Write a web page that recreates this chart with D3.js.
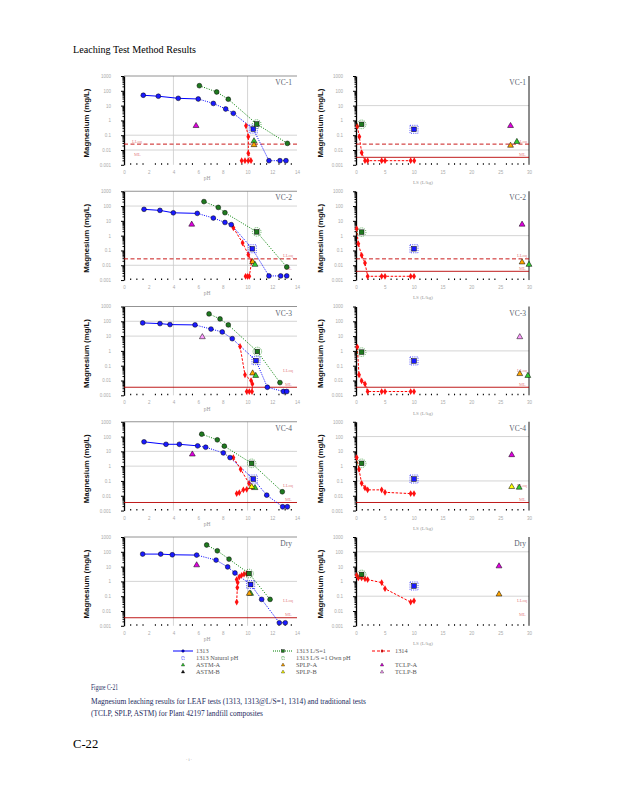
<!DOCTYPE html>
<html>
<head>
<meta charset="utf-8">
<script src="https://cdn.jsdelivr.net/npm/d3@7"></script>
<style>
    body { margin: 0; background: #fff; }
    svg { display: block; }
</style>
</head>
<body>
<script>
// ---- data ----
const panelNames = ["VC-1", "VC-2", "VC-3", "VC-4", "Dry"];
const decades = [0.001, 0.01, 0.1, 1, 10, 100, 1000];
const phTicks = [0, 2, 4, 6, 8, 10, 12, 14];
const lsTicks = [0, 5, 10, 15, 20, 25, 30];

// 1313 (pH, mg/L), one list per panel; index natIdx is the natural pH point
const m1313 = [
    [[1.56, 50], [2.78, 43], [4.39, 31], [6.01, 28], [7.23, 14], [8.23, 5.9], [8.85, 3.0], [10.46, 0.26], [11.73, 0.0019], [12.62, 0.0019], [13.11, 0.0019]],
    [[1.62, 60], [2.91, 51], [3.99, 35], [5.93, 32], [7.23, 15.5], [8.17, 7.8], [8.68, 5.5], [10.38, 0.13], [11.73, 0.0019], [12.68, 0.0019], [13.17, 0.0019]],
    [[1.51, 78], [2.91, 70], [3.72, 60], [5.75, 57], [7.04, 30], [7.95, 19], [8.76, 6.7], [10.68, 0.22], [11.6, 0.0035], [12.9, 0.0018], [13.17, 0.0018]],
    [[1.62, 44], [3.40, 30], [4.48, 30], [5.96, 23.5], [6.61, 19], [8.04, 7.8], [8.58, 3.8], [10.46, 0.135], [11.55, 0.011], [12.84, 0.0018], [13.22, 0.0018]],
    [[1.51, 70], [2.97, 70], [3.91, 63], [5.88, 60], [7.45, 27.5], [8.39, 9.5], [8.98, 3.7], [10.25, 0.61], [11.14, 0.061], [12.57, 0.0016], [13.05, 0.0016]],
];
const natIdx1313 = [7, 7, 7, 7, 7];

// 1313 L/S=1 (pH, mg/L)
const m1313LS1 = [
    [[6.10, 221], [7.50, 83], [8.44, 27], [10.74, 0.57], [13.22, 0.028]],
    [[6.47, 200], [7.63, 81], [8.17, 35.5], [10.74, 1.8], [13.17, 0.0076]],
    [[6.88, 316], [7.77, 145], [8.44, 57], [10.79, 0.91], [12.62, 0.0072]],
    [[6.29, 145], [7.55, 60], [8.12, 22.4], [10.33, 1.55], [12.81, 0.0186]],
    [[6.69, 288], [7.55, 117], [8.5, 32], [10.12, 3.4], [11.82, 0.061]],
];
const natIdxLS1 = [3, 3, 3, 3, 3];

// 1314 eluates against pH
const m1314pH = [
    [[9.87, 0.43], [10.06, 0.079], [10.06, 0.006], [10.28, 0.0019], [10.06, 0.0019], [9.79, 0.0019], [9.52, 0.0019]],
    [[8.85, 3.4], [9.6, 0.32], [10.06, 0.052], [10.33, 0.018], [10.14, 0.0018], [10.0, 0.0018], [9.84, 0.0018]],
    [[9.39, 2.0], [9.79, 0.024], [10.28, 0.01], [10.39, 0.0059], [10.36, 0.0018], [10.14, 0.0018], [9.93, 0.0018]],
    [[8.85, 3.8], [9.44, 0.61], [10.12, 0.069], [10.33, 0.04], [9.93, 0.027], [9.66, 0.025], [9.33, 0.016], [9.12, 0.014]],
    [[9.93, 3.4], [9.71, 3.1], [9.52, 2.6], [9.33, 2.0], [9.12, 1.32], [9.2, 0.83], [9.17, 0.38], [9.12, 0.04]],
];

// 1314 eluates against cumulative L/S (L/kg)
const m1314LS = [
    [[0.23, 0.39], [0.58, 0.079], [0.98, 0.0066], [1.56, 0.0019], [2.02, 0.0019], [4.45, 0.0019], [5.03, 0.0019], [9.48, 0.0019], [10.1, 0.0019]],
    [[0.12, 2.9], [0.4, 0.28], [0.98, 0.047], [1.56, 0.014], [2.02, 0.0018], [4.45, 0.0018], [5.03, 0.0018], [9.48, 0.0018], [10.06, 0.0018]],
    [[0.23, 1.8], [0.52, 0.024], [0.98, 0.0094], [1.56, 0.0059], [2.02, 0.0018], [4.45, 0.0018], [5.03, 0.0018], [9.48, 0.0018], [10.06, 0.0018]],
    [[0.12, 3.8], [0.52, 0.61], [0.98, 0.069], [1.56, 0.034], [2.02, 0.025], [4.45, 0.025], [5.03, 0.017], [9.48, 0.014], [10.06, 0.014]],
    [[0.12, 2.6], [0.4, 1.73], [0.98, 1.73], [1.56, 1.5], [2.02, 1.32], [4.45, 0.83], [5.03, 0.32], [9.48, 0.04], [10.06, 0.049]],
];

// natural pH points on the L/S plots
const m1313NatLS = [[10.06, 0.25], [10.06, 0.13], [10.06, 0.21], [10.06, 0.135], [10.06, 0.49]];
const m1313LS1NatLS = [[0.98, 0.54], [0.98, 1.73], [0.98, 0.83], [0.98, 1.55], [0.98, 2.95]];

// single-point tests [test, pH or L/S, mg/L]
const singlePH = [
    [["TCLP-A", 5.83, 0.43], ["ASTM-A", 10.52, 0.04], ["SPLP-A", 10.52, 0.022]],
    [["TCLP-A", 5.48, 5.7], ["SPLP-A", 10.41, 0.017], ["ASTM-A", 10.6, 0.011]],
    [["TCLP-B", 6.34, 8.7], ["SPLP-A", 10.41, 0.031], ["ASTM-A", 10.66, 0.021]],
    [["TCLP-A", 5.53, 6.3], ["ASTM-A", 10.6, 0.034], ["SPLP-B", 10.33, 0.04]],
    [["TCLP-A", 5.88, 12.6], ["ASTM-A", 10.25, 0.15], ["SPLP-A", 10.14, 0.15]],
];
const singleLS = [
    [["TCLP-A", 26.8, 0.43], ["ASTM-A", 27.9, 0.036], ["SPLP-A", 26.8, 0.02]],
    [["TCLP-A", 28.8, 5.7], ["SPLP-A", 28.8, 0.016], ["ASTM-A", 30, 0.011]],
    [["TCLP-B", 28.4, 8.7], ["SPLP-A", 28.4, 0.028], ["ASTM-A", 29.8, 0.021]],
    [["TCLP-A", 27, 5.7], ["SPLP-B", 27, 0.04], ["ASTM-A", 28.3, 0.036]],
    [["TCLP-A", 24.8, 10.7], ["SPLP-A", 24.8, 0.135]],
];

// quantitation / method limits; shown flags are [pH plot, L/S plot]
const lloq = [0.025, 0.027, 0.03, 0.03, 0.03];
const ml = [0.0032, 0.0039, 0.0035, 0.0035, 0.0035];
const lloqShown = [[1, 1], [1, 1], [0, 0], [0, 0], [0, 0]];
const mlShown = [[0, 1], [0, 1], [1, 1], [1, 1], [1, 0]];

// gridlines that show in each plot
const gridPH = [[0.1, 0.01], [100, 0.01], [100, 10], [10, 1], [1]];
const gridLS = [[10, 0.01], [1], [1], [100, 0.1], [100, 0.1]];
const gridPHx = [4, 10];

const triColor = {
    "ASTM-A": "#33cc33", "ASTM-B": "#111111",
    "SPLP-A": "#ffa500", "SPLP-B": "#ffff00",
    "TCLP-A": "#e000e0", "TCLP-B": "#ff9cff",
};

// ---- page ----
const svg = d3.select("body").append("svg")
    .attr("width", 618)
    .attr("height", 800)
    .style("font-family", "'Liberation Serif', 'Times New Roman', serif");

const xPh = d3.scaleLinear().domain([0, 14]).range([124, 297]);
const xLs = d3.scaleLinear().domain([0, 30]).range([356, 529]);
const panelH = 88.8;
const panelTop = (i) => 76 + i * 115.25;
const minorVals = decades.slice(0, -1).flatMap((d) => d3.range(2, 10).map((k) => d * k));

const diamond = d3.symbol().type(d3.symbolDiamond).size(13);
const triangle = d3.symbol().type(d3.symbolTriangle).size(15);

function drawPanel(i, side) {
    const top = panelTop(i);
    const isPh = side === 0;
    const x = isPh ? xPh : xLs;
    const [x0, x1] = x.range();
    const y = d3.scaleLog().domain([0.001, 1000]).range([top + panelH, top]);
    const g = svg.append("g");

    // grid
    g.selectAll("line.hg")
        .data(isPh ? gridPH[i] : gridLS[i])
        .join("line")
        .attr("class", "hg")
        .attr("x1", x0).attr("x2", x1)
        .attr("y1", (d) => y(d)).attr("y2", (d) => y(d))
        .attr("stroke", "#c9c9c9")
        .attr("stroke-width", 0.8);
    if (isPh) {
        g.selectAll("line.vg")
            .data(gridPHx)
            .join("line")
            .attr("class", "vg")
            .attr("x1", (d) => x(d)).attr("x2", (d) => x(d))
            .attr("y1", top).attr("y2", top + panelH)
            .attr("stroke", "#c9c9c9")
            .attr("stroke-width", 0.8);
        g.append("line")
            .attr("x1", x0).attr("x2", x1).attr("y1", top).attr("y2", top)
            .attr("stroke", "#777").attr("stroke-width", 0.8);
    } else {
        g.append("line")
            .attr("x1", x1).attr("x2", x1).attr("y1", top).attr("y2", top + panelH)
            .attr("stroke", "#000").attr("stroke-width", 0.9);
    }

    // y axis
    const ya = g.append("g")
        .attr("transform", `translate(${x0},0)`)
        .call(d3.axisLeft(y).tickValues(decades).tickSize(3).tickSizeOuter(0).tickPadding(10).tickFormat(d3.format("~g")));
    ya.select(".domain").attr("stroke-width", 1.3);
    ya.selectAll("text")
        .attr("font-size", 4.5)
        .attr("fill", "#aaa")
        .attr("font-family", "'Liberation Sans', Arial, sans-serif");
    g.append("g")
        .attr("transform", `translate(${x0},0)`)
        .call(d3.axisLeft(y).tickValues(minorVals).tickSize(1.5).tickFormat(""))
        .call((s) => s.select(".domain").remove());

    // x axis
    const xa = g.append("g")
        .attr("transform", `translate(0,${top + panelH})`)
        .call(d3.axisBottom(x).tickValues(isPh ? phTicks : lsTicks).tickSize(0).tickPadding(6).tickFormat(d3.format("d")));
    xa.select(".domain").remove();
    xa.selectAll("text")
        .attr("font-size", 4.5)
        .attr("fill", "#aaa")
        .attr("font-family", "'Liberation Sans', Arial, sans-serif");
    const minorX = isPh
        ? d3.range(0.5, 14, 0.5).filter((v) => v % 2 !== 0)
        : d3.range(1, 30).filter((v) => v % 5 !== 0);
    g.append("g")
        .attr("transform", `translate(0,${top + panelH})`)
        .call(d3.axisBottom(x).tickValues(minorX).tickSize(-1.6).tickSizeOuter(0).tickFormat(""))
        .call((s) => s.select(".domain").remove())
        .selectAll("line").attr("stroke-width", 1.1);

    g.append("text")
        .attr("x", isPh ? 207 : 423)
        .attr("y", top + (isPh ? 104 : 108))
        .attr("text-anchor", "middle")
        .attr("font-size", isPh ? 5.5 : 5)
        .attr("fill", "#999")
        .text(isPh ? "pH" : "LS (L/kg)");

    // axis title
    g.append("text")
        .attr("transform", `translate(${isPh ? 89 : 323},${top + 47}) rotate(-90)`)
        .attr("text-anchor", "middle")
        .attr("font-family", "'Liberation Sans', Arial, sans-serif")
        .attr("font-weight", "bold")
        .attr("font-size", 7.8)
        .attr("fill", "#111")
        .text("Magnesium (mg/L)");

    // panel name
    g.append("text")
        .attr("x", isPh ? 292 : 526)
        .attr("y", top + 9)
        .attr("text-anchor", "end")
        .attr("font-size", 7.5)
        .attr("fill", "#5a5f70")
        .text(panelNames[i]);

    // limits
    if (lloqShown[i][side]) {
        g.append("line")
            .attr("x1", x0).attr("x2", x1)
            .attr("y1", y(lloq[i])).attr("y2", y(lloq[i]))
            .attr("stroke", "#c40000").attr("stroke-width", 0.9)
            .attr("stroke-dasharray", "4,2.5");
    }
    if (mlShown[i][side]) {
        g.append("line")
            .attr("x1", x0).attr("x2", x1)
            .attr("y1", y(ml[i])).attr("y2", y(ml[i]))
            .attr("stroke", "#b80000").attr("stroke-width", 0.9);
    }
    const lx = isPh ? (i === 0 ? x0 + 8 : x1 - 14) : x1 - 12;
    g.append("text").attr("x", lx).attr("y", y(lloq[i]) - 1.5)
        .attr("font-size", 4.5).attr("fill", "#e58a8a").text("LLoq");
    g.append("text").attr("x", lx + 2).attr("y", y(ml[i]) - 1.5)
        .attr("font-size", 4.5).attr("fill", "#e58a8a").text("ML");

    const line = d3.line().x((d) => x(d[0])).y((d) => y(d[1]));

    const circles = (data, fill) => {
        g.selectAll(null)
            .data(data)
            .join("circle")
            .attr("cx", (d) => x(d[0]))
            .attr("cy", (d) => y(d[1]))
            .attr("r", 2.4)
            .attr("fill", fill)
            .attr("stroke", "#000")
            .attr("stroke-width", 0.5);
    };
    const natBlue = (d) => {
        g.append("rect")
            .attr("x", x(d[0]) - 4).attr("y", y(d[1]) - 4)
            .attr("width", 8).attr("height", 8)
            .attr("fill", "none").attr("stroke", "#0000ff")
            .attr("stroke-width", 0.7).attr("stroke-dasharray", "1,1.2");
        g.append("rect")
            .attr("x", x(d[0]) - 2.3).attr("y", y(d[1]) - 2.3)
            .attr("width", 4.6).attr("height", 4.6)
            .attr("fill", "#1a1aff").attr("stroke", "#000").attr("stroke-width", 0.5);
    };
    const natGreen = (d) => {
        g.append("circle")
            .attr("cx", x(d[0])).attr("cy", y(d[1])).attr("r", 4.3)
            .attr("fill", "none").attr("stroke", "#008000")
            .attr("stroke-width", 0.7).attr("stroke-dasharray", "1,1.2");
        g.append("rect")
            .attr("x", x(d[0]) - 2.3).attr("y", y(d[1]) - 2.3)
            .attr("width", 4.6).attr("height", 4.6)
            .attr("fill", "#1f7a1f").attr("stroke", "#000").attr("stroke-width", 0.5);
    };

    const reds = isPh ? m1314pH[i] : m1314LS[i];

    if (isPh) {
        const b = m1313[i];
        const gr = m1313LS1[i];
        g.append("path").attr("d", line(b.slice(0, 4)))
            .attr("fill", "none").attr("stroke", "#0000ff").attr("stroke-width", 1);
        g.append("path").attr("d", line(b.slice(3)))
            .attr("fill", "none").attr("stroke", "#0000ff").attr("stroke-width", 1)
            .attr("stroke-dasharray", "1,1.3");
        g.append("path").attr("d", line(gr))
            .attr("fill", "none").attr("stroke", "#008000").attr("stroke-width", 1)
            .attr("stroke-dasharray", "1,1.5");
        g.append("path").attr("d", line(reds))
            .attr("fill", "none").attr("stroke", "#ff0000").attr("stroke-width", 1)
            .attr("stroke-dasharray", "2.5,1.5");
        g.selectAll(null).data(reds).join("path")
            .attr("d", diamond)
            .attr("transform", (d) => `translate(${x(d[0])},${y(d[1])})`)
            .attr("fill", "#ff1010");
        circles(b.filter((_, k) => k !== natIdx1313[i]), "#1a1aff");
        natBlue(b[natIdx1313[i]]);
        circles(gr.filter((_, k) => k !== natIdxLS1[i]), "#1f7a1f");
        natGreen(gr[natIdxLS1[i]]);
    } else {
        g.append("path").attr("d", line(reds))
            .attr("fill", "none").attr("stroke", "#ff0000").attr("stroke-width", 1)
            .attr("stroke-dasharray", "2.5,1.5");
        g.selectAll(null).data(reds).join("path")
            .attr("d", diamond)
            .attr("transform", (d) => `translate(${x(d[0])},${y(d[1])})`)
            .attr("fill", "#ff1010");
        natBlue(m1313NatLS[i]);
        natGreen(m1313LS1NatLS[i]);
    }

    // single-point tests
    g.selectAll(null)
        .data(isPh ? singlePH[i] : singleLS[i])
        .join("path")
        .attr("d", triangle)
        .attr("transform", (d) => `translate(${x(d[1])},${y(d[2])})`)
        .attr("fill", (d) => triColor[d[0]])
        .attr("stroke", "#000")
        .attr("stroke-width", 0.5);
}

panelNames.forEach((_, i) => {
    drawPanel(i, 0);
    drawPanel(i, 1);
});

// ---- legend ----
const legendRows = [651, 658, 665, 672];
const legendCols = [173, 273, 372];
const lg = svg.append("g").attr("font-size", 6.3).attr("fill", "#555");

const legendItems = [
    { col: 0, row: 0, label: "1313", line: "solid", color: "#0000ff", mark: "circle" },
    { col: 0, row: 1, label: "1313 Natural pH", color: "#0000ff", mark: "dots" },
    { col: 0, row: 2, label: "ASTM-A", color: triColor["ASTM-A"], mark: "tri" },
    { col: 0, row: 3, label: "ASTM-B", color: triColor["ASTM-B"], mark: "tri" },
    { col: 1, row: 0, label: "1313  L/S=1", line: "dot", color: "#008000", mark: "square" },
    { col: 1, row: 1, label: "1313  L/S =1 Own pH", color: "#008000", mark: "dots" },
    { col: 1, row: 2, label: "SPLP-A", color: triColor["SPLP-A"], mark: "tri" },
    { col: 1, row: 3, label: "SPLP-B", color: triColor["SPLP-B"], mark: "tri" },
    { col: 2, row: 0, label: "1314", line: "dash", color: "#ff0000", mark: "diamond" },
    { col: 2, row: 2, label: "TCLP-A", color: triColor["TCLP-A"], mark: "tri" },
    { col: 2, row: 3, label: "TCLP-B", color: triColor["TCLP-B"], mark: "tri" },
];

legendItems.forEach((d) => {
    const lx = legendCols[d.col];
    const ly = legendRows[d.row];
    const cx = lx + 10;
    if (d.line) {
        lg.append("line")
            .attr("x1", lx).attr("x2", lx + 20).attr("y1", ly).attr("y2", ly)
            .attr("stroke", d.color).attr("stroke-width", 1)
            .attr("stroke-dasharray", d.line === "dot" ? "1,1" : d.line === "dash" ? "3,2" : null);
    }
    if (d.mark === "circle") {
        lg.append("circle").attr("cx", cx).attr("cy", ly).attr("r", 1.3)
            .attr("fill", d.color).attr("stroke", "#000").attr("stroke-width", 0.4);
    } else if (d.mark === "square") {
        lg.append("rect").attr("x", cx - 1.3).attr("y", ly - 1.3).attr("width", 2.6).attr("height", 2.6)
            .attr("fill", "#1f7a1f").attr("stroke", "#000").attr("stroke-width", 0.4);
    } else if (d.mark === "diamond") {
        lg.append("path").attr("d", d3.symbol().type(d3.symbolDiamond).size(5)())
            .attr("transform", `translate(${cx},${ly})`).attr("fill", "#c00000");
    } else if (d.mark === "tri") {
        lg.append("path").attr("d", d3.symbol().type(d3.symbolTriangle).size(5)())
            .attr("transform", `translate(${cx},${ly})`)
            .attr("fill", d.color).attr("stroke", "#000").attr("stroke-width", 0.35);
    } else if (d.mark === "dots") {
        lg.append("rect").attr("x", cx - 1.2).attr("y", ly - 1.5).attr("width", 2.4).attr("height", 3)
            .attr("fill", "none").attr("stroke", d.color).attr("stroke-width", 0.6)
            .attr("stroke-dasharray", "0.8,0.8");
    }
    lg.append("text").attr("x", lx + 23).attr("y", ly + 2).text(d.label);
});

// ---- page text ----
svg.append("text")
    .attr("x", 73).attr("y", 53)
    .attr("font-size", 10.5)
    .attr("textLength", 123).attr("lengthAdjust", "spacingAndGlyphs")
    .attr("fill", "#000")
    .text("Leaching Test Method Results");

const captionLines = [
    { text: "Figure C-21", y: 690, w: 27 },
    { text: "Magnesium leaching results for LEAF tests (1313, 1313@L/S=1, 1314) and traditional tests", y: 703.5, w: 275 },
    { text: "(TCLP, SPLP, ASTM) for Plant 42197 landfill composites", y: 716, w: 172 },
];
svg.selectAll("text.cap")
    .data(captionLines)
    .join("text")
    .attr("class", "cap")
    .attr("x", 91)
    .attr("y", (d) => d.y)
    .attr("font-size", 8.5)
    .attr("fill", "#1b2a5e")
    .attr("textLength", (d) => d.w)
    .attr("lengthAdjust", "spacingAndGlyphs")
    .text((d) => d.text);

svg.append("text")
    .attr("x", 73).attr("y", 748)
    .attr("font-size", 12.6)
    .attr("fill", "#000")
    .text("C-22");

svg.append("text")
    .attr("x", 189).attr("y", 761)
    .attr("text-anchor", "middle")
    .attr("font-size", 4)
    .attr("fill", "#888")
    .text("·  i  ·");
</script>
</body>
</html>
